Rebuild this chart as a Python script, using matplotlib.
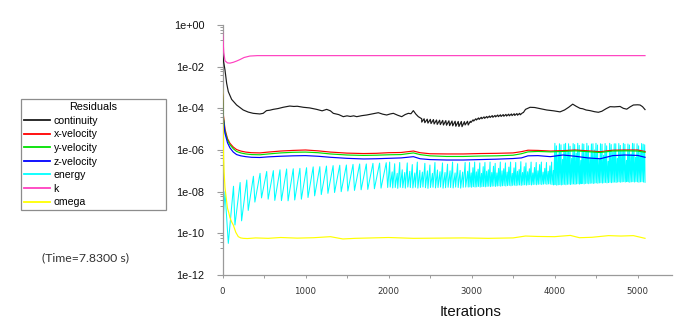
import numpy as np
import matplotlib
matplotlib.use("Agg")
import matplotlib.pyplot as plt
from matplotlib.ticker import FixedLocator, FuncFormatter
from matplotlib.lines import Line2D

# ---------------- data (log10 of residuals) ----------------
series_names = ["continuity", "x-velocity", "y-velocity", "z-velocity", "energy", "k", "omega"]
series_colors = ["#1a1a1a", "#ff0000", "#00e000", "#0000ff", "#00ffff", "#ff40c0", "#ffff00"]

x_ticks = [0, 1000, 2000, 3000, 4000, 5000]
y_tick_exps = [0, -2, -4, -6, -8, -10, -12]

# k
k_iter = [0, 5, 15, 30, 60, 90, 130, 170, 210, 260, 330, 420, 5090]
k_log = [-0.32, -0.6, -1.3, -1.72, -1.82, -1.83, -1.79, -1.73, -1.66, -1.56, -1.49, -1.47, -1.47]

# continuity (smooth parts)
cont_iter_a = [0, 15, 30, 50, 70, 110, 170, 250, 310, 370, 450, 490, 530, 570, 610, 670, 730, 810, 860,
               900, 975, 1050, 1135, 1200, 1255, 1300, 1335, 1400, 1455, 1500, 1540, 1580, 1617, 1680,
               1737, 1800, 1877, 1930, 1978, 2020, 2058, 2110, 2159, 2200, 2239, 2270, 2299, 2330, 2359, 2400]
cont_log_a = [-1.33, -1.8, -2.16, -2.80, -3.20, -3.57, -3.84, -4.08, -4.18, -4.24, -4.27, -4.24, -4.11,
              -4.09, -4.05, -4.01, -3.95, -3.89, -3.91, -3.90, -3.95, -3.98, -4.05, -4.12, -4.05, -4.12,
              -4.24, -4.30, -4.40, -4.36, -4.39, -4.36, -4.40, -4.35, -4.32, -4.27, -4.21, -4.28, -4.32,
              -4.27, -4.24, -4.33, -4.40, -4.30, -4.24, -4.26, -4.11, -4.28, -4.40, -4.50]
cont_t1_low = [-4.66, -4.69, -4.71, -4.73, -4.75, -4.77, -4.78, -4.80, -4.81, -4.83, -4.84, -4.86, -4.87, -4.88, -4.80]
cont_t1_high = [-4.50, -4.52, -4.53, -4.54, -4.56, -4.57, -4.58, -4.59, -4.60, -4.61, -4.62, -4.63, -4.63, -4.64, -4.62]
cont_t2_low = [-4.80, -4.68, -4.61, -4.56, -4.53, -4.50, -4.48, -4.46, -4.44, -4.43, -4.41, -4.40, -4.39,
               -4.38, -4.37, -4.36, -4.35, -4.34, -4.33, -4.31]
cont_t2_high = [-4.62, -4.55, -4.50, -4.46, -4.43, -4.41, -4.39, -4.37, -4.35, -4.34, -4.32, -4.31, -4.30,
                -4.29, -4.28, -4.27, -4.26, -4.25, -4.24, -4.22]
cont_iter_b = [3625, 3650, 3705, 3760, 3830, 3906, 3990, 4066, 4120, 4170, 4219, 4260, 4307, 4340, 4380,
               4428, 4480, 4528, 4570, 4620, 4669, 4720, 4789, 4829, 4870, 4910, 4950, 5000, 5030, 5060, 5090]
cont_log_b = [-4.20, -4.05, -3.95, -3.96, -4.02, -4.08, -4.12, -4.17, -4.08, -3.95, -3.80, -3.90, -4.00,
              -4.02, -4.08, -4.11, -4.16, -4.19, -4.14, -4.02, -3.92, -3.93, -3.91, -4.00, -4.04, -3.93,
              -3.84, -3.83, -3.84, -3.92, -4.06]

# velocities
vel_iter = [0, 10, 30, 60, 90, 130, 170, 220, 280, 350, 450, 550, 700, 850, 1000, 1150, 1300, 1500, 1700,
            1850, 2000, 2150, 2300, 2380, 2500, 2700, 2900, 3100, 3300, 3500, 3600, 3680, 3800, 3950,
            4100, 4250, 4400, 4550, 4700, 4850, 5000, 5090]
xvel_log = [-3.3, -4.3, -5.0, -5.45, -5.68, -5.86, -5.98, -6.05, -6.10, -6.13, -6.14, -6.10, -6.05, -6.02,
            -6.00, -6.04, -6.10, -6.15, -6.17, -6.16, -6.13, -6.12, -6.05, -6.13, -6.18, -6.19, -6.19,
            -6.17, -6.16, -6.14, -6.08, -6.01, -6.02, -6.05, -6.03, -6.00, -6.04, -6.08, -6.01, -6.00,
            -6.00, -6.07]
yvel_log = [-3.35, -4.4, -5.1, -5.52, -5.75, -5.94, -6.07, -6.14, -6.19, -6.22, -6.23, -6.19, -6.14, -6.11,
            -6.10, -6.13, -6.19, -6.24, -6.26, -6.25, -6.23, -6.22, -6.14, -6.22, -6.28, -6.31, -6.31,
            -6.29, -6.28, -6.25, -6.18, -6.09, -6.07, -6.09, -6.07, -6.04, -6.08, -6.12, -6.05, -6.04,
            -6.05, -6.11]
zvel_log = [-3.4, -4.5, -5.2, -5.65, -5.90, -6.10, -6.22, -6.28, -6.32, -6.35, -6.36, -6.33, -6.30, -6.28,
            -6.27, -6.30, -6.35, -6.40, -6.43, -6.42, -6.40, -6.38, -6.32, -6.42, -6.46, -6.48, -6.48,
            -6.46, -6.44, -6.41, -6.38, -6.28, -6.27, -6.32, -6.24, -6.30, -6.38, -6.42, -6.27, -6.24,
            -6.26, -6.35]

# omega
omega_iter = [0, 5, 12, 20, 30, 45, 60, 75, 90, 110, 130, 160, 190, 220, 250, 300, 400, 550, 700, 900,
              1100, 1300, 1450, 1600, 1800, 2000, 2300, 2600, 2900, 3200, 3500, 3650, 3800, 4000, 4190,
              4300, 4450, 4650, 4800, 4950, 5090]
omega_log = [-3.04, -4.5, -6.2, -7.1, -7.8, -8.3, -8.8, -9.0, -9.25, -9.45, -9.6, -9.95, -10.16, -10.22,
             -10.24, -10.25, -10.22, -10.24, -10.20, -10.23, -10.21, -10.16, -10.27, -10.24, -10.22,
             -10.20, -10.24, -10.23, -10.22, -10.24, -10.22, -10.13, -10.15, -10.16, -10.10, -10.21,
             -10.19, -10.11, -10.13, -10.11, -10.24]

# energy
energy_start_iter = [0, 30]
energy_start_log = [-9.84, -8.0]
energy_a_low = [-10.48, -9.6, -9.4, -8.9, -8.5, -8.3, -8.36, -8.42, -8.43, -8.44, -8.40, -8.36, -8.28,
                -8.20, -8.14, -8.08, -8.04, -8.00, -7.97, -7.94, -7.91, -7.89, -7.86, -7.83]
energy_a_high = [-7.74, -7.56, -7.44, -7.26, -7.12, -7.03, -6.99, -6.95, -6.91, -6.90, -6.88, -6.85,
                 -6.81, -6.80, -6.77, -6.75, -6.73, -6.72, -6.69, -6.67, -6.67, -6.64, -6.63, -6.61]
energy_b1_low = [-7.80, -7.78, -7.82, -7.80, -7.84, -7.79, -7.81, -7.83, -7.78, -7.80, -7.82, -7.79,
                 -7.83, -7.80, -7.78, -7.81, -7.84, -7.80, -7.79, -7.82, -7.80, -7.78, -7.83, -7.81,
                 -7.79, -7.80, -7.82, -7.78, -7.80, -7.83, -7.79, -7.78]
energy_b1_high = [-6.58, -7.05, -6.66, -7.12, -6.60, -6.95, -7.08, -6.62, -7.02, -6.70, -7.10, -6.58,
                  -6.98, -7.06, -6.64, -7.00, -6.72, -7.12, -6.60, -6.96, -7.04, -6.62, -7.08, -6.68,
                  -7.00, -6.58, -7.10, -6.66, -6.98, -7.06, -6.60, -7.02]
energy_b2_low = [-7.78, -7.77, -7.79, -7.76, -7.78, -7.77, -7.75, -7.78, -7.76, -7.75, -7.77, -7.75,
                 -7.74, -7.76, -7.74, -7.73, -7.75, -7.73, -7.72, -7.74, -7.72, -7.71, -7.73, -7.71,
                 -7.70, -7.72, -7.70, -7.69, -7.71, -7.69, -7.68, -7.70, -7.68, -7.67, -7.69, -7.67,
                 -7.66, -7.68, -7.66, -7.65, -7.67, -7.65, -7.64, -7.66, -7.64, -7.63, -7.65, -7.63,
                 -7.64, -7.66]
energy_b2_high = [-6.60, -7.10, -6.85, -6.58, -7.05, -6.92, -6.62, -7.12, -6.80, -6.60, -7.02, -6.95,
                  -6.58, -7.08, -6.78, -6.64, -7.10, -6.88, -6.58, -7.00, -6.90, -6.62, -7.06, -6.82,
                  -6.58, -7.12, -6.86, -6.60, -7.02, -6.94, -6.56, -7.08, -6.80, -6.62, -7.04, -6.90,
                  -6.58, -7.10, -6.84, -6.60, -7.00, -6.70, -6.58, -7.06, -6.88, -6.60, -7.02, -6.76,
                  -6.58, -6.98]
energy_c_low = [-7.68, -7.66, -7.69, -7.67, -7.66, -7.68, -7.66, -7.65, -7.67, -7.65, -7.64, -7.66,
                -7.64, -7.63, -7.65, -7.63, -7.62, -7.64, -7.62, -7.61, -7.63, -7.61, -7.60, -7.62,
                -7.60, -7.59, -7.61, -7.59, -7.58, -7.60, -7.58, -7.57, -7.59, -7.57, -7.56, -7.58,
                -7.56, -7.55, -7.57, -7.55, -7.54, -7.56, -7.54, -7.53, -7.55, -7.53, -7.52, -7.54,
                -7.52, -7.53, -7.55, -7.53, -7.52, -7.54, -7.52, -7.53, -7.55, -7.53, -7.52, -7.54]
energy_c_high = [-5.68, -5.80, -6.20, -5.70, -5.75, -6.45, -5.72, -5.68, -6.05, -5.70, -5.82, -6.40,
                 -5.69, -5.74, -6.15, -5.68, -5.78, -6.50, -5.70, -5.72, -6.10, -5.68, -5.80, -6.35,
                 -5.71, -5.70, -6.00, -5.68, -5.76, -6.45, -5.70, -5.72, -6.25, -5.69, -5.80, -6.55,
                 -5.68, -5.74, -6.10, -5.70, -5.70, -6.40, -5.69, -5.78, -6.05, -5.68, -5.72, -6.50,
                 -5.71, -5.76, -6.20, -5.68, -5.70, -6.35, -5.70, -5.80, -6.00, -5.69, -5.72, -5.75]
energy_end_iter = [5090]
energy_end_log = [-7.55]

# segment bounds (iterations) of the oscillating parts
cont_t1_span = (2400, 2960)
cont_t2_span = (2960, 3620)
energy_a_span = (70, 1990)
energy_b1_span = (1990, 2960)
energy_b2_span = (2960, 3990)
energy_c_span = (3990, 5090)


def teeth(span, lows, highs, rise=0.78):
    """Alternate trough/peak values across a span of iterations."""
    start, end = span
    n = len(lows)
    p = (end - start) / n
    xs, ys = [], []
    for i in range(n):
        xs += [start + i * p, start + (i + rise) * p]
        ys += [lows[i], highs[i]]
    return xs, ys


def pw(v):
    return np.power(10.0, np.asarray(v, dtype=float))


# ---------------- figure ----------------
W, H, DPI = 680, 332, 100
fig = plt.figure(figsize=(W / DPI, H / DPI), dpi=DPI)
ax = fig.add_axes([222.5 / W, 1 - 275 / H, (672 - 222.5) / W, 250 / H])
ax.set_yscale("log")

lw = 0.85

# energy (drawn first so the other lines show over the dense band)
ex, ey = list(energy_start_iter), list(energy_start_log)
for span, lo, hi in [(energy_a_span, energy_a_low, energy_a_high),
                     (energy_b1_span, energy_b1_low, energy_b1_high),
                     (energy_b2_span, energy_b2_low, energy_b2_high),
                     (energy_c_span, energy_c_low, energy_c_high)]:
    tx, ty = teeth(span, lo, hi)
    ex += tx
    ey += ty
ex += energy_end_iter
ey += energy_end_log
ax.plot(ex, pw(ey), color=series_colors[4], lw=0.75, zorder=2)

# continuity
cx, cy = list(cont_iter_a), list(cont_log_a)
for span, lo, hi in [(cont_t1_span, cont_t1_low, cont_t1_high),
                     (cont_t2_span, cont_t2_low, cont_t2_high)]:
    tx, ty = teeth(span, lo, hi)
    cx += tx
    cy += ty
cx += cont_iter_b
cy += cont_log_b
ax.plot(cx, pw(cy), color=series_colors[0], lw=lw, zorder=3)

ax.plot(vel_iter, pw(xvel_log), color=series_colors[1], lw=lw, zorder=3)
ax.plot(vel_iter, pw(yvel_log), color=series_colors[2], lw=lw, zorder=3)
ax.plot(vel_iter, pw(zvel_log), color=series_colors[3], lw=lw, zorder=3)
ax.plot(k_iter, pw(k_log), color=series_colors[5], lw=lw, zorder=3)
ax.plot(omega_iter, pw(omega_log), color=series_colors[6], lw=lw, zorder=3)

# axes styling
ax.set_xlim(0, 5415)
ax.set_ylim(1e-12, 1e0)
for s in ["top", "right"]:
    ax.spines[s].set_visible(False)
for s in ["left", "bottom"]:
    ax.spines[s].set_color("#9a9a9a")
    ax.spines[s].set_linewidth(0.9)

ax.yaxis.set_major_locator(FixedLocator([10.0 ** e for e in y_tick_exps]))
ax.yaxis.set_major_formatter(FuncFormatter(lambda v, p: "1e%+03d" % int(round(np.log10(v)))))
minor_y = [10.0 ** e * f for e in y_tick_exps[:-1] for f in (0.2, 0.4, 0.6, 0.8)]
ax.yaxis.set_minor_locator(FixedLocator(minor_y))
ax.yaxis.set_minor_formatter(FuncFormatter(lambda v, p: ""))

ax.xaxis.set_major_locator(FixedLocator(x_ticks))
ax.xaxis.set_minor_locator(FixedLocator([500, 1500, 2500, 3500, 4500]))

ax.tick_params(axis="y", which="major", length=4.0, width=0.8, color="#9a9a9a", pad=9,
               labelsize=7.8, labelcolor="#111111")
ax.tick_params(axis="y", which="minor", length=2.2, width=0.7, color="#9a9a9a")
ax.tick_params(axis="x", which="both", length=2.0, width=0.7, color="#9a9a9a", pad=7,
               labelsize=6.2, labelcolor="#333333")
for lab in ax.get_yticklabels():
    lab.set_fontfamily("Liberation Sans")
for lab in ax.get_xticklabels():
    lab.set_fontfamily("DejaVu Sans")

fig.text(470.7 / W, 1 - 316.5 / H, "Iterations", ha="center", va="baseline",
         fontsize=10.8, family="Liberation Sans", color="#111111")

# legend
handles = [Line2D([], [], color=c, lw=1.3) for c in series_colors]
leg = fig.legend(handles, series_names, title="Residuals", loc="upper left",
                 bbox_to_anchor=(20.5 / W, 1 - 99 / H, 145.5 / W, 0.0), mode="expand",
                 prop={"family": "Liberation Sans", "size": 7.6},
                 title_fontproperties={"family": "Liberation Sans", "size": 7.8},
                 frameon=True, fancybox=False, edgecolor="#8c8c8c", framealpha=1.0,
                 borderaxespad=0.0, borderpad=0.3, labelspacing=0.34, handlelength=2.5,
                 handletextpad=0.35, alignment="center")
leg.get_frame().set_linewidth(0.9)

fig.text(86 / W, 1 - 258 / H, "(Time=7.8300 s)", ha="center", va="center",
         fontsize=8.8, family="Lato", color="#333333")

fig.savefig("out.png", dpi=DPI)
